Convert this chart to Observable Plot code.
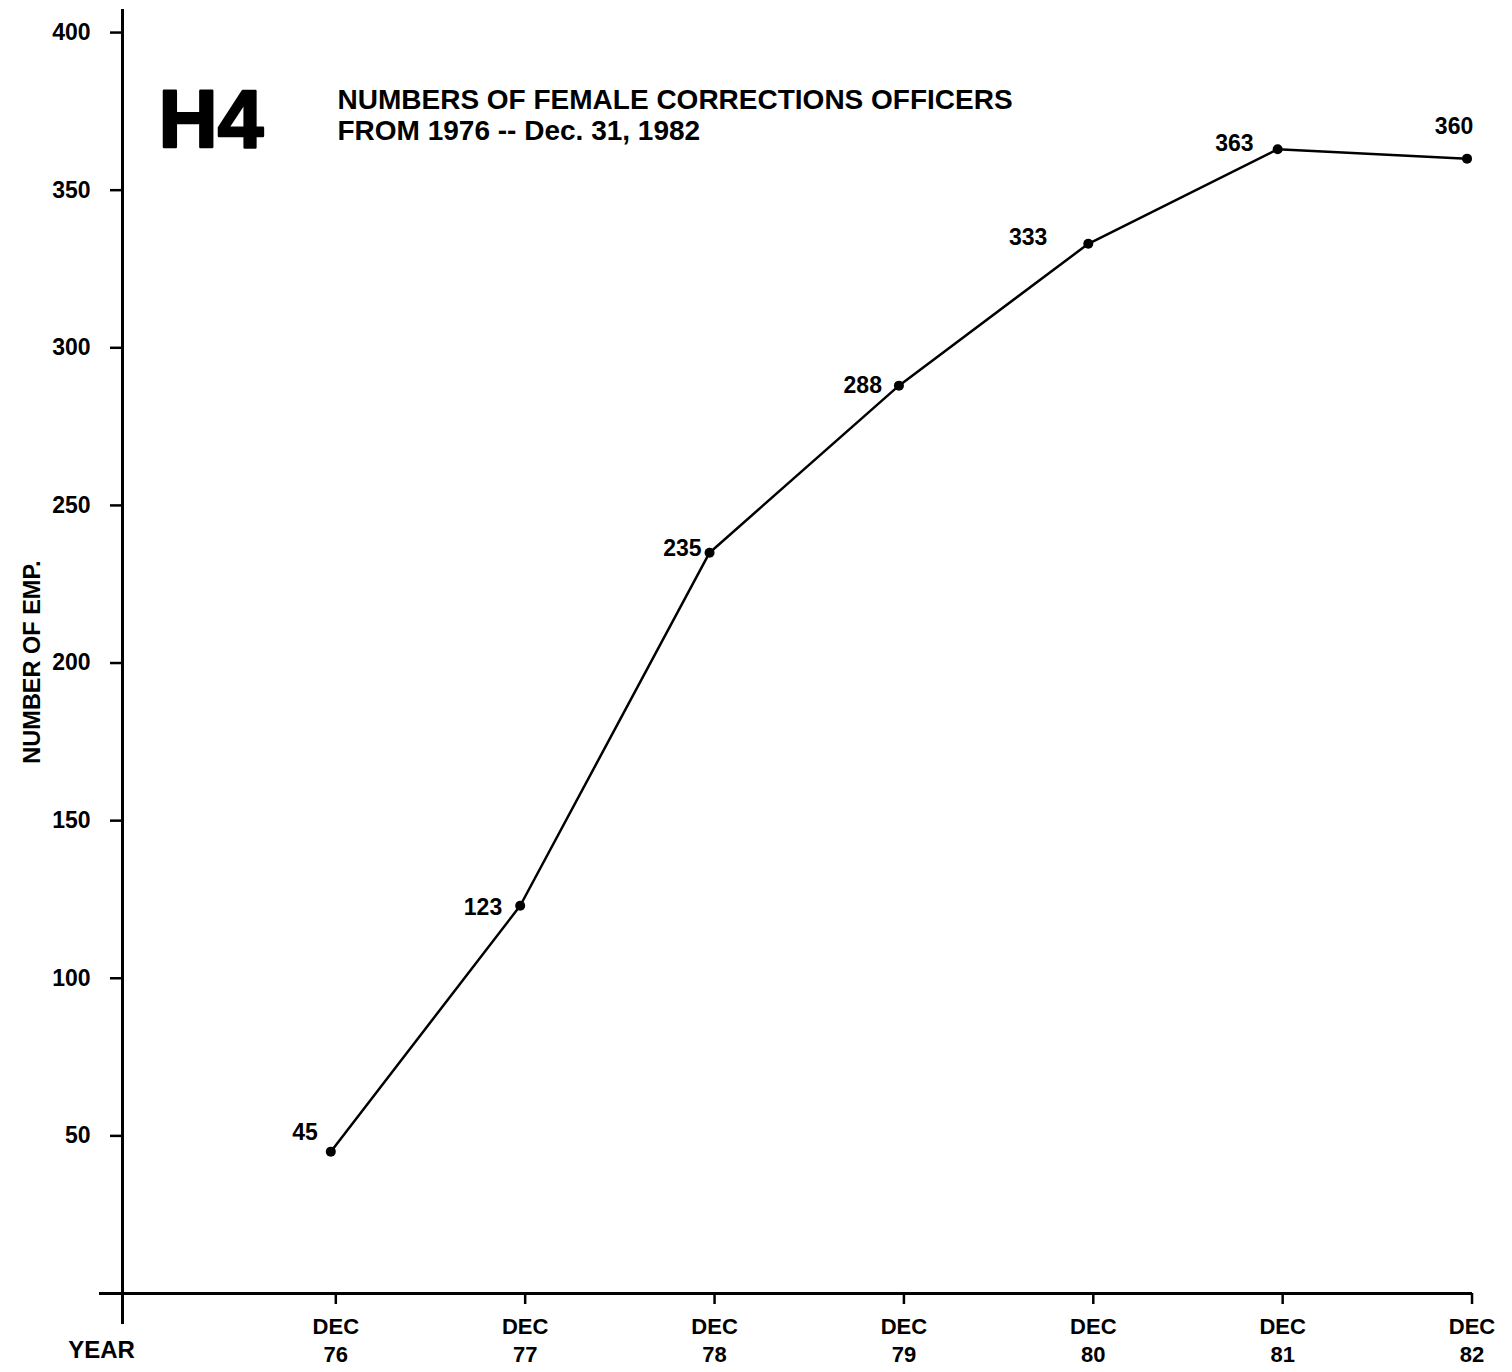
<!DOCTYPE html>
<html>
<head>
<meta charset="utf-8">
<script src="https://cdn.jsdelivr.net/npm/d3@7"></script>
<script src="https://cdn.jsdelivr.net/npm/@observablehq/plot@0.6"></script>
<style>
  html, body { margin: 0; padding: 0; background: #ffffff; }
  #chart svg { display: block; }
</style>
</head>
<body>
<div id="chart"></div>
<script>
// ---- data ----
const years = [76, 77, 78, 79, 80, 81, 82];
const xTickLabels = ["DEC\n76", "DEC\n77", "DEC\n78", "DEC\n79", "DEC\n80", "DEC\n81", "DEC\n82"];
const counts = [45, 123, 235, 288, 333, 363, 360];
const yTicks = [50, 100, 150, 200, 250, 300, 350, 400];
const figureCode = "H4";
const titleLines = ["NUMBERS OF FEMALE CORRECTIONS OFFICERS", "FROM 1976 -- Dec. 31, 1982"];
const yLabel = "NUMBER OF EMP.";
const xLabel = "YEAR";

const table = years.map((yr, i) => ({year: yr, count: counts[i], label: String(counts[i])}));

// label placement (styling only): [textAnchor, dx, dy]
const labelPlacement = {
  76: ["end", -13, -19],
  77: ["end", -18, 2],
  78: ["end", -8, -4],
  79: ["end", -17, 0],
  80: ["end", -41, -6],
  81: ["end", -24, -6],
  82: ["middle", -13, -32]
};

const FONT = "'Liberation Sans', Arial, Helvetica, sans-serif";

const labelMarks = years.map(yr => {
  const [anchor, dx, dy] = labelPlacement[yr];
  return Plot.text(table.filter(d => d.year === yr), {
    x: "year", y: "count", text: "label",
    textAnchor: anchor, dx, dy,
    fontSize: 23, fontWeight: "bold", fill: "#000"
  });
});

const chart = Plot.plot({
  width: 1512,
  height: 1372,
  marginTop: 10,
  marginLeft: 122,
  marginRight: 36,
  marginBottom: 79,
  style: {fontFamily: FONT, background: "#ffffff", color: "#000", overflow: "visible"},
  x: {domain: [74.9, 82.05], axis: null},
  y: {domain: [0, 407], axis: null},
  marks: [
    // axis lines
    Plot.frame({anchor: "left", insetBottom: -29, stroke: "#000", strokeWidth: 3}),
    Plot.frame({anchor: "bottom", insetLeft: -22, insetRight: 6, stroke: "#000", strokeWidth: 3}),
    // y axis
    Plot.axisY(yTicks, {
      tickSize: 12, tickPadding: 20, tickFormat: d => String(d),
      fontSize: 23, fontWeight: "bold", strokeWidth: 2.5, label: null
    }),
    Plot.text([yLabel], {
      frameAnchor: "left", textAnchor: "middle", dx: -90, dy: 10, rotate: -90,
      fontSize: 23.5, fontWeight: "bold", fill: "#000"
    }),
    // x axis
    Plot.axisX(years, {
      tickSize: 11, tickPadding: 9, dx: 5,
      tickFormat: (d, i) => xTickLabels[i],
      fontSize: 22, fontWeight: "bold", lineHeight: 1.3, strokeWidth: 2.5, label: null
    }),
    Plot.text([xLabel], {
      frameAnchor: "bottom-left", textAnchor: "middle", dx: -21, dy: 64,
      fontSize: 24, fontWeight: "bold", fill: "#000"
    }),
    // titles
    Plot.text([figureCode], {
      frameAnchor: "top-left", textAnchor: "start", lineAnchor: "top",
      dx: 36, dy: 78, fontSize: 82, fontWeight: 900, fill: "#000",
      stroke: "#000", strokeWidth: 2.5
    }),
    Plot.text([titleLines.join("\n")], {
      frameAnchor: "top-left", textAnchor: "start", lineAnchor: "top",
      dx: 215, dy: 77, fontSize: 28, fontWeight: "bold", lineHeight: 1.1, fill: "#000"
    }),
    // data
    Plot.line(table, {x: "year", y: "count", stroke: "#000", strokeWidth: 2.5}),
    Plot.dot(table, {x: "year", y: "count", r: 5, fill: "#000", stroke: "none"}),
    ...labelMarks
  ]
});

document.getElementById("chart").appendChild(chart);
</script>
</body>
</html>
